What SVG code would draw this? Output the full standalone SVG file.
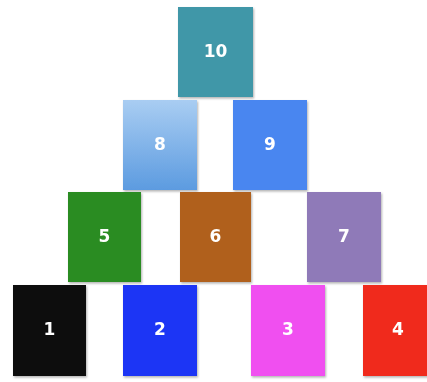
<svg xmlns="http://www.w3.org/2000/svg" width="427" height="382" viewBox="0 0 427 382">
<style>
.b{stroke:none}
.t{font-family:"DejaVu Sans","Liberation Sans",sans-serif;font-weight:bold;font-size:17px;fill:#ffffff;text-anchor:middle;dominant-baseline:central}
</style>
<defs>
<linearGradient id="g8" x1="0" y1="0" x2="0" y2="1">
<stop offset="0" stop-color="#a9cdf2"/>
<stop offset="1" stop-color="#5c9be0"/>
</linearGradient>
<filter id="sh" x="-10%" y="-10%" width="125%" height="125%">
<feDropShadow dx="1" dy="1.5" stdDeviation="1.2" flood-color="#000" flood-opacity="0.3"/>
</filter>
</defs>
<rect width="427" height="382" fill="#ffffff"/>
<g id="n10" filter="url(#sh)"><rect class="b" x="178" y="7" width="75" height="90" fill="#3f97a8"/><text class="t" x="215.5" y="51">10</text></g>
<g id="n8" filter="url(#sh)"><rect class="b" x="123" y="100" width="74" height="90" fill="url(#g8)"/><text class="t" x="160" y="144">8</text></g>
<g id="n9" filter="url(#sh)"><rect class="b" x="233" y="100" width="74" height="90" fill="#4a86f0"/><text class="t" x="270" y="144">9</text></g>
<g id="n5" filter="url(#sh)"><rect class="b" x="68" y="192" width="73" height="90" fill="#2a8c20"/><text class="t" x="104.5" y="236">5</text></g>
<g id="n6" filter="url(#sh)"><rect class="b" x="180" y="192" width="71" height="90" fill="#b0601a"/><text class="t" x="215.5" y="236">6</text></g>
<g id="n7" filter="url(#sh)"><rect class="b" x="307" y="192" width="74" height="90" fill="#8f7ab8"/><text class="t" x="344" y="236">7</text></g>
<g id="n1" filter="url(#sh)"><rect class="b" x="13" y="285" width="73" height="91" fill="#0b0b0b"/><text class="t" x="49.5" y="329">1</text></g>
<g id="n2" filter="url(#sh)"><rect class="b" x="123" y="285" width="74" height="91" fill="#1a36f5"/><text class="t" x="160" y="329">2</text></g>
<g id="n3" filter="url(#sh)"><rect class="b" x="251" y="285" width="74" height="91" fill="#f050f0"/><text class="t" x="288" y="329">3</text></g>
<g id="n4" filter="url(#sh)"><rect class="b" x="363" y="285" width="74" height="91" fill="#f02a1a"/><text class="t" x="398" y="329">4</text></g>
<g id="connectors"></g>
</svg>
